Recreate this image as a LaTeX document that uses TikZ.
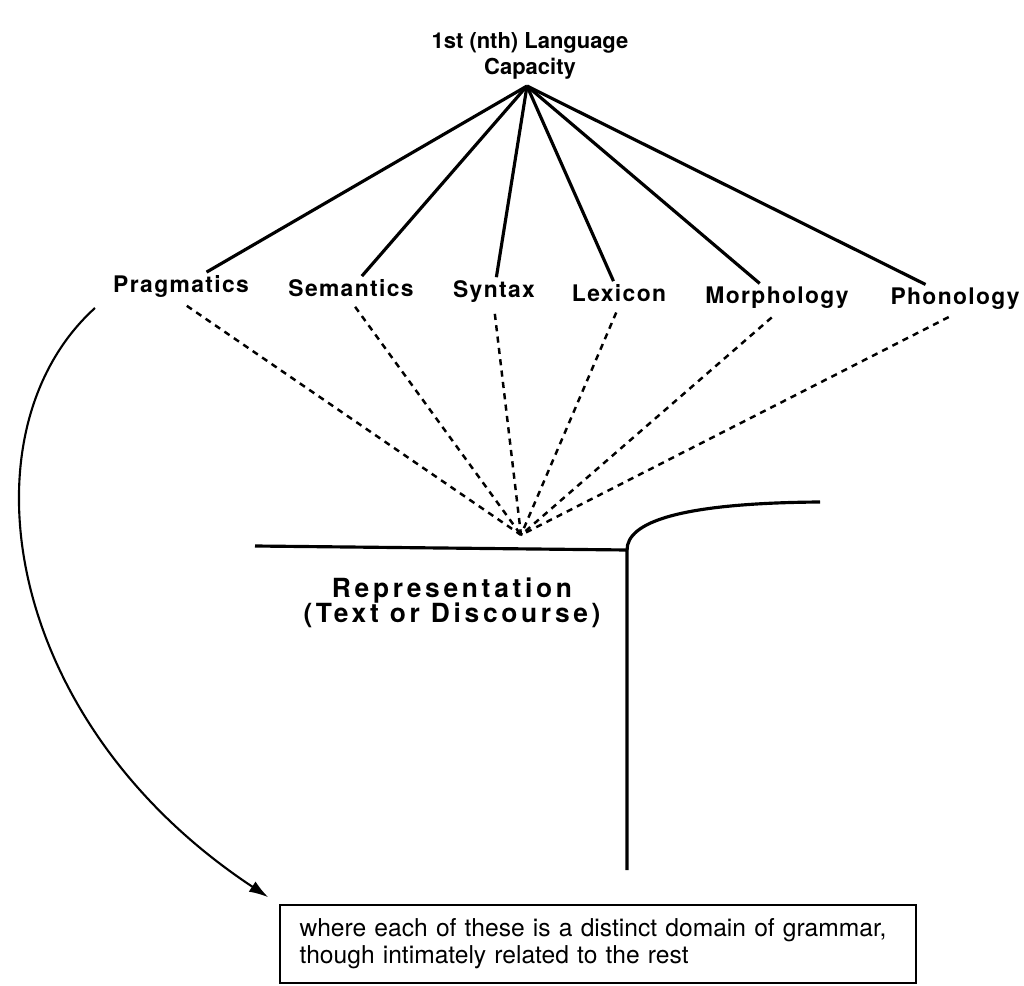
\documentclass[tikz,border=0pt]{standalone}
\usepackage{fontspec}
\setmainfont{TeX Gyre Heros}
\newfontfamily\lblfont[LetterSpace=6]{TeX Gyre Heros}
\newfontfamily\repfont[LetterSpace=14]{TeX Gyre Heros}
\usetikzlibrary{calc, arrows.meta}

\begin{document}
\begin{tikzpicture}[x=0.02cm, y=-0.02cm,
    field/.style={font=\lblfont\bfseries\fontsize{13}{15}\selectfont, inner sep=2pt, anchor=base},
    branch/.style={line width=1.8pt},
    feed/.style={line width=1.4pt, dash pattern=on 3.5pt off 3pt, shorten <=4pt}]
        \useasboundingbox (0,0) rectangle (1024,986);

        % Define the points
        \coordinate (top) at (527,86);
        \coordinate (meet) at (521,535);
        \coordinate (L) at (255,546);
        \coordinate (K) at (627,550);
        \coordinate (E) at (820,502);
        \coordinate (F) at (627,870);
        \coordinate (arc) at (95,308);

        % Title
        \node[font=\bfseries\fontsize{12.5}{14.5}\selectfont, align=center] (cap) at (530,56) {1st (nth) Language\\Capacity};

        % The domains
        \node[field] (prag) at (181,293) {Pragmatics};
        \node[field] (sem) at (351,297) {Semantics};
        \node[field] (syn) at (494,298) {Syntax};
        \node[field] (lex) at (619,302) {Lexicon};
        \node[field] (mor) at (777,304) {Morphology};
        \node[field] (pho) at (955,305) {Phonology};

        % Solid lines from the capacity
        \draw[branch] (top) -- (prag);
        \draw[branch] (top) -- (sem);
        \draw[branch] (top) -- (syn);
        \draw[branch] (top) -- (lex);
        \draw[branch] (top) -- (mor);
        \draw[branch] (top) -- (pho);

        % Dashed lines down to the representation
        \draw[feed] (prag.south) -- (meet);
        \draw[feed] (sem.south) -- (meet);
        \draw[feed] (syn.south) -- (meet);
        \draw[feed] (lex.south) -- (meet);
        \draw[feed] (mor.south) -- (meet);
        \draw[feed] (pho.south) -- (meet);

        % The representation
        \draw[branch] (L) -- (K) -- (F);
        \draw[branch] (K) .. controls (627,522) and (680,503) .. (E);
        \node[font=\repfont\bfseries\fontsize{15}{14.5}\selectfont, align=center] (rep) at (452,603) {Representation\\(Text or Discourse)};

        % The note
        \node[draw, line width=1.1pt, text width=11.94cm, inner xsep=0.4cm, minimum height=1.56cm, align=left, font=\fontsize{14}{15.5}\selectfont] (note) at (598,944) {where each of these is a distinct domain of grammar,\\though intimately related to the rest};
        \draw[line width=1.2pt, -{Latex[length=11pt, width=7pt]}, shorten >=7pt] (arc) .. controls (-40,430) and (0,720) .. (note.north west);
    \end{tikzpicture}
\end{document}
